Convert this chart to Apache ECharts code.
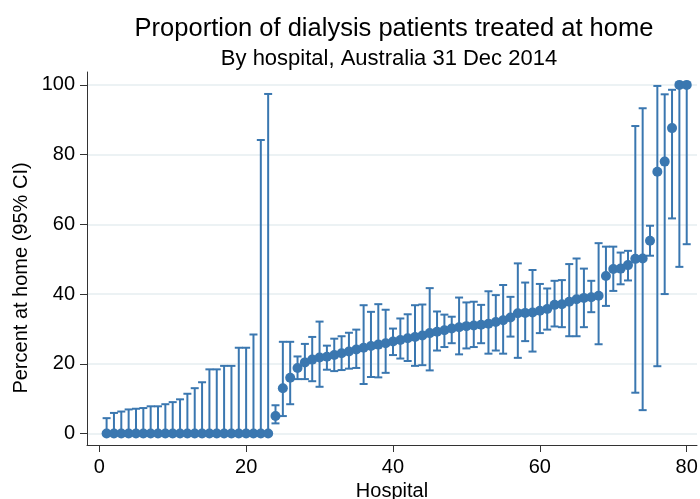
<!DOCTYPE html>
<html>
<head>
<meta charset="utf-8">
<title>Dialysis at home</title>
<script src="https://cdn.jsdelivr.net/npm/echarts@6/dist/echarts.min.js"></script>
<style>
  html, body { margin: 0; padding: 0; background: #fff; }
  #chart { width: 700px; height: 499px; }
</style>
</head>
<body>
<div id="chart"></div>
<script>
// hospital number 1..80, proportion treated at home (%) and 95% CI
const hospitals = Array.from({ length: 80 }, (_, i) => i + 1);
const percentHome = [
  0, 0, 0, 0, 0, 0, 0, 0, 0, 0, 0, 0, 0, 0, 0, 0, 0, 0, 0, 0, 0, 0, 0,
  5.0, 13.0, 16.0, 18.8, 20.4, 21.2, 21.8, 22.0, 22.5, 23.0, 23.5,
  24.1, 24.6, 25.1, 25.5, 25.9, 26.4, 26.8, 27.3, 27.7, 28.1, 28.8,
  29.2, 29.6, 30.1, 30.5, 30.8, 31.0, 31.2, 31.5, 32.0, 32.5, 33.3,
  34.5, 34.6, 34.7, 35.2, 35.7, 36.9, 37.1, 37.8, 38.5, 38.9, 39.1,
  39.5, 45.2, 47.2, 47.3, 48.3, 50.1, 50.2, 55.3, 75.1, 78.0, 87.6,
  100, 100
];
const ciLower = [
  0, 0, 0, 0, 0, 0, 0, 0, 0, 0, 0, 0, 0, 0, 0, 0, 0, 0, 0, 0, 0, 0, 0,
  2.9, 5.0, 8.4, 15.6, 15.6, 15.0, 13.4, 18.3, 17.9, 18.2, 18.6,
  18.8, 14.2, 16.2, 16.1, 17.4, 22.5, 21.5, 20.8, 19.4, 19.6, 18.1,
  23.8, 24.8, 25.9, 22.7, 24.4, 24.8, 25.9, 22.9, 23.8, 22.9, 27.8,
  21.7, 26.5, 23.5, 28.8, 29.8, 30.7, 30.5, 27.9, 27.9, 30.5, 34.8,
  25.6, 36.6, 40.9, 42.8, 43.9, 11.7, 6.7, 51.0, 19.3, 40.0, 61.7,
  47.8, 54.3
];
const ciUpper = [
  4.4, 5.9, 6.3, 6.9, 7.1, 7.3, 7.8, 7.8, 8.4, 9.0, 9.8, 11.4, 13.0,
  14.7, 18.4, 18.4, 19.4, 19.4, 24.6, 24.6, 28.4, 84.2, 97.4,
  8.1, 26.3, 26.3, 22.1, 25.7, 27.7, 32.1, 25.2, 27.2, 27.9, 28.9,
  29.8, 36.8, 34.9, 37.1, 35.5, 30.1, 33.0, 34.2, 36.8, 37.0, 41.7,
  35.0, 34.1, 33.5, 39.0, 37.6, 37.8, 36.9, 40.8, 39.7, 42.6, 39.2,
  48.8, 43.3, 46.9, 42.9, 41.6, 43.8, 44.0, 48.6, 50.2, 47.3, 43.8,
  54.6, 53.6, 53.6, 51.9, 52.4, 88.2, 93.3, 59.6, 99.7, 97.3, 98.6,
  100, 100
];
const xTicks = [0, 20, 40, 60, 80];
const yTicks = [0, 20, 40, 60, 80, 100];

const blue = "#3a77b0";
const font = "Liberation Sans, Arial, sans-serif";

const chart = echarts.init(document.getElementById("chart"), null, { renderer: "canvas" });

const option = {
  backgroundColor: "#fff",
  animation: false,
  textStyle: { fontFamily: font },
  graphic: [
    {
      type: "text",
      x: 394,
      y: 29,
      style: {
        text: "Proportion of dialysis patients treated at home",
        font: "25.5px " + font,
        fill: "#000",
        textAlign: "center",
        textVerticalAlign: "middle",
      },
    },
    {
      type: "text",
      x: 389,
      y: 59,
      style: {
        text: "By hospital, Australia 31 Dec 2014",
        font: "22px " + font,
        fill: "#000",
        textAlign: "center",
        textVerticalAlign: "middle",
      },
    },
    {
      type: "text",
      x: 21,
      y: 278,
      rotation: Math.PI / 2,
      style: {
        text: "Percent at home (95% CI)",
        font: "20px " + font,
        fill: "#000",
        textAlign: "center",
        textVerticalAlign: "middle",
      },
    },
  ],
  grid: {
    left: 87,
    right: 3,
    top: 72,
    bottom: 54,
    containLabel: false,
    outerBoundsMode: "none",
  },
  xAxis: {
    type: "value",
    min: -1.67,
    max: 81.4,
    name: "Hospital",
    nameLocation: "middle",
    nameGap: 33,
    nameTextStyle: { fontSize: 20, color: "#000", fontFamily: font },
    axisLine: { onZero: false, lineStyle: { color: "#333", width: 1 } },
    axisTick: { customValues: xTicks, length: 7, lineStyle: { color: "#333" } },
    axisLabel: {
      customValues: xTicks,
      fontSize: 20,
      color: "#000",
      margin: 12,
      fontFamily: font,
    },
    splitLine: { show: false },
  },
  yAxis: {
    type: "value",
    min: -3.3,
    max: 103.7,
    axisLine: { show: true, onZero: false, lineStyle: { color: "#333", width: 1 } },
    axisTick: { show: true, customValues: yTicks, length: 7, lineStyle: { color: "#333" } },
    axisLabel: {
      customValues: yTicks,
      fontSize: 20,
      color: "#000",
      margin: 12,
      fontFamily: font,
    },
    splitLine: { show: true, lineStyle: { color: "#e6eef1", width: 1.5 } },
  },
  series: [
    {
      type: "custom",
      name: "95% CI",
      data: hospitals.map((h, i) => [h, ciLower[i], ciUpper[i]]),
      renderItem(params, api) {
        const x = api.value(0);
        const lo = api.coord([x, api.value(1)]);
        const hi = api.coord([x, api.value(2)]);
        const hw = 4;
        const style = { stroke: blue, lineWidth: 2 };
        return {
          type: "group",
          children: [
            { type: "line", shape: { x1: lo[0], y1: lo[1], x2: hi[0], y2: hi[1] }, style },
            { type: "line", shape: { x1: hi[0] - hw, y1: hi[1], x2: hi[0] + hw, y2: hi[1] }, style },
            { type: "line", shape: { x1: lo[0] - hw, y1: lo[1], x2: lo[0] + hw, y2: lo[1] }, style },
          ],
        };
      },
      z: 2,
    },
    {
      type: "scatter",
      name: "Percent at home",
      data: hospitals.map((h, i) => [h, percentHome[i]]),
      symbol: "circle",
      symbolSize: 10,
      itemStyle: { color: blue, opacity: 1 },
      z: 3,
    },
  ],
};

chart.setOption(option);
</script>
</body>
</html>
